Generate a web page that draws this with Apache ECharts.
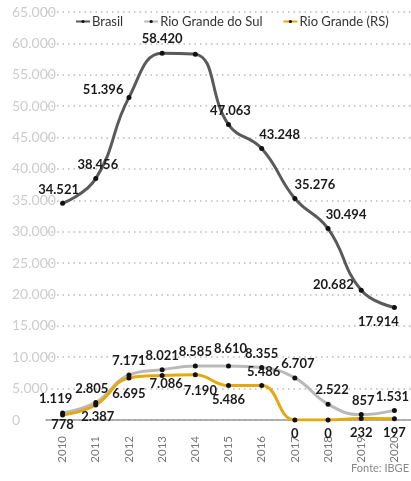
<!DOCTYPE html>
<html>
<head>
<meta charset="utf-8">
<script src="https://cdn.jsdelivr.net/npm/echarts@6/dist/echarts.min.js"></script>
<style>
  html, body { margin: 0; padding: 0; background: #fff; }
  #chart { width: 411px; height: 481px; }
</style>
</head>
<body>
<div id="chart"></div>
<script>
// dados (IBGE)
var anos = ['2010', '2011', '2012', '2013', '2014', '2015', '2016', '2017', '2018', '2019', '2020'];
var brasil = [34521, 38456, 51396, 58420, 58250, 47063, 43248, 35276, 30494, 20682, 17914];
var rioGrandeDoSul = [1119, 2805, 7171, 8021, 8585, 8610, 8355, 6707, 2522, 857, 1531];
var rioGrandeRS = [778, 2387, 6695, 7086, 7190, 5486, 5486, 0, 0, 232, 197];
var yTicks = [0, 5000, 10000, 15000, 20000, 25000, 30000, 35000, 40000, 45000, 50000, 55000, 60000, 65000];

function fmt(v) {
  return String(v).replace(/\B(?=(\d{3})+(?!\d))/g, '.');
}

var labelFont = { fontFamily: 'Lato', fontWeight: 'bold', fontSize: 13, color: '#1a1a1a' };

// posições dos rótulos, ponto a ponto
var posBrasil = [
  { position: 'top', offset: [-4, 0] },
  { position: 'top', offset: [2, 0] },
  { position: 'left', offset: [2, -8] },
  { position: 'top' },
  null,
  { position: 'top', offset: [2, 0] },
  { position: 'top', offset: [18, 0] },
  { position: 'top', offset: [20, 0] },
  { position: 'top', offset: [18, 0] },
  { position: 'left', offset: [0, -5] },
  { position: 'bottom', offset: [-16, 0] }
];
var posRS = [
  { position: 'top', offset: [-7, 0] },
  { position: 'top', offset: [-4, 0] },
  { position: 'top' },
  { position: 'top' },
  { position: 'top' },
  { position: 'top', offset: [2, -3] },
  { position: 'top' },
  { position: 'top', offset: [3, 0] },
  { position: 'top', offset: [4, 0] },
  { position: 'top', offset: [2, 0] },
  { position: 'top', offset: [-2, 0] }
];
var posRG = [
  { position: 'bottom', offset: [0, -4] },
  { position: 'bottom', offset: [2, -2] },
  { position: 'bottom', offset: [0, 2] },
  { position: 'bottom', offset: [4, -6] },
  { position: 'bottom', offset: [5, 2] },
  { position: 'bottom' },
  { position: 'top', offset: [2, 0] },
  { position: 'bottom' },
  { position: 'bottom' },
  { position: 'bottom' },
  { position: 'bottom' }
];

function montar(valores, posicoes) {
  return valores.map(function (v, i) {
    var p = posicoes[i];
    if (!p) return { value: v, label: { show: false } };
    return { value: v, label: Object.assign({ show: true }, labelFont, p) };
  });
}

var chart = echarts.init(document.getElementById('chart'));
chart.setOption({
  animation: false,
  textStyle: { fontFamily: 'Lato' },
  legend: {
    top: 10,
    left: 70,
    itemWidth: 14,
    itemHeight: 4,
    itemGap: 20,
    textStyle: { fontFamily: 'Lato', fontSize: 13, color: '#333', padding: [0, 0, 0, -3] },
    data: ['Brasil', 'Rio Grande do Sul', 'Rio Grande (RS)']
  },
  graphic: [{
    type: 'text',
    right: 2,
    top: 463,
    style: { text: 'Fonte: IBGE', fontFamily: 'Lato', fontSize: 11, fill: '#888' }
  }],
  grid: { left: 46, right: 0, top: 12, bottom: 61 },
  xAxis: {
    type: 'category',
    data: anos,
    boundaryGap: true,
    axisLine: { lineStyle: { color: '#999', width: 1.5 } },
    axisTick: { show: false },
    axisLabel: {
      rotate: 90, margin: 16,
      fontFamily: 'Lato', fontSize: 11.5, color: '#777'
    }
  },
  yAxis: {
    type: 'value',
    min: yTicks[0],
    max: yTicks[yTicks.length - 1],
    interval: 5000,
    axisLine: { show: false },
    axisTick: { show: false },
    axisLabel: {
      align: 'left',
      margin: 34,
      fontFamily: 'Lato',
      fontSize: 14,
      color: '#cccccc',
      formatter: fmt
    },
    splitLine: { lineStyle: { color: '#bbb', width: 1.5, type: [1.5, 4] } }
  },
  series: [
    {
      name: 'Brasil',
      type: 'line',
      smooth: 0.45,
      symbol: 'circle',
      symbolSize: 5,
      itemStyle: { color: '#111' },
      lineStyle: { color: '#5a5a5a', width: 3 },
      label: { formatter: function (p) { return fmt(p.value); } },
      data: montar(brasil, posBrasil)
    },
    {
      name: 'Rio Grande do Sul',
      type: 'line',
      smooth: 0.45,
      symbol: 'circle',
      symbolSize: 5,
      itemStyle: { color: '#111' },
      lineStyle: { color: '#b9b9b9', width: 3 },
      label: { formatter: function (p) { return fmt(p.value); } },
      data: montar(rioGrandeDoSul, posRS)
    },
    {
      name: 'Rio Grande (RS)',
      type: 'line',
      smooth: 0.45,
      symbol: 'circle',
      symbolSize: 5,
      itemStyle: { color: '#111' },
      lineStyle: { color: '#e5a910', width: 3 },
      label: { formatter: function (p) { return fmt(p.value); } },
      data: montar(rioGrandeRS, posRG)
    }
  ]
});
</script>
</body>
</html>
